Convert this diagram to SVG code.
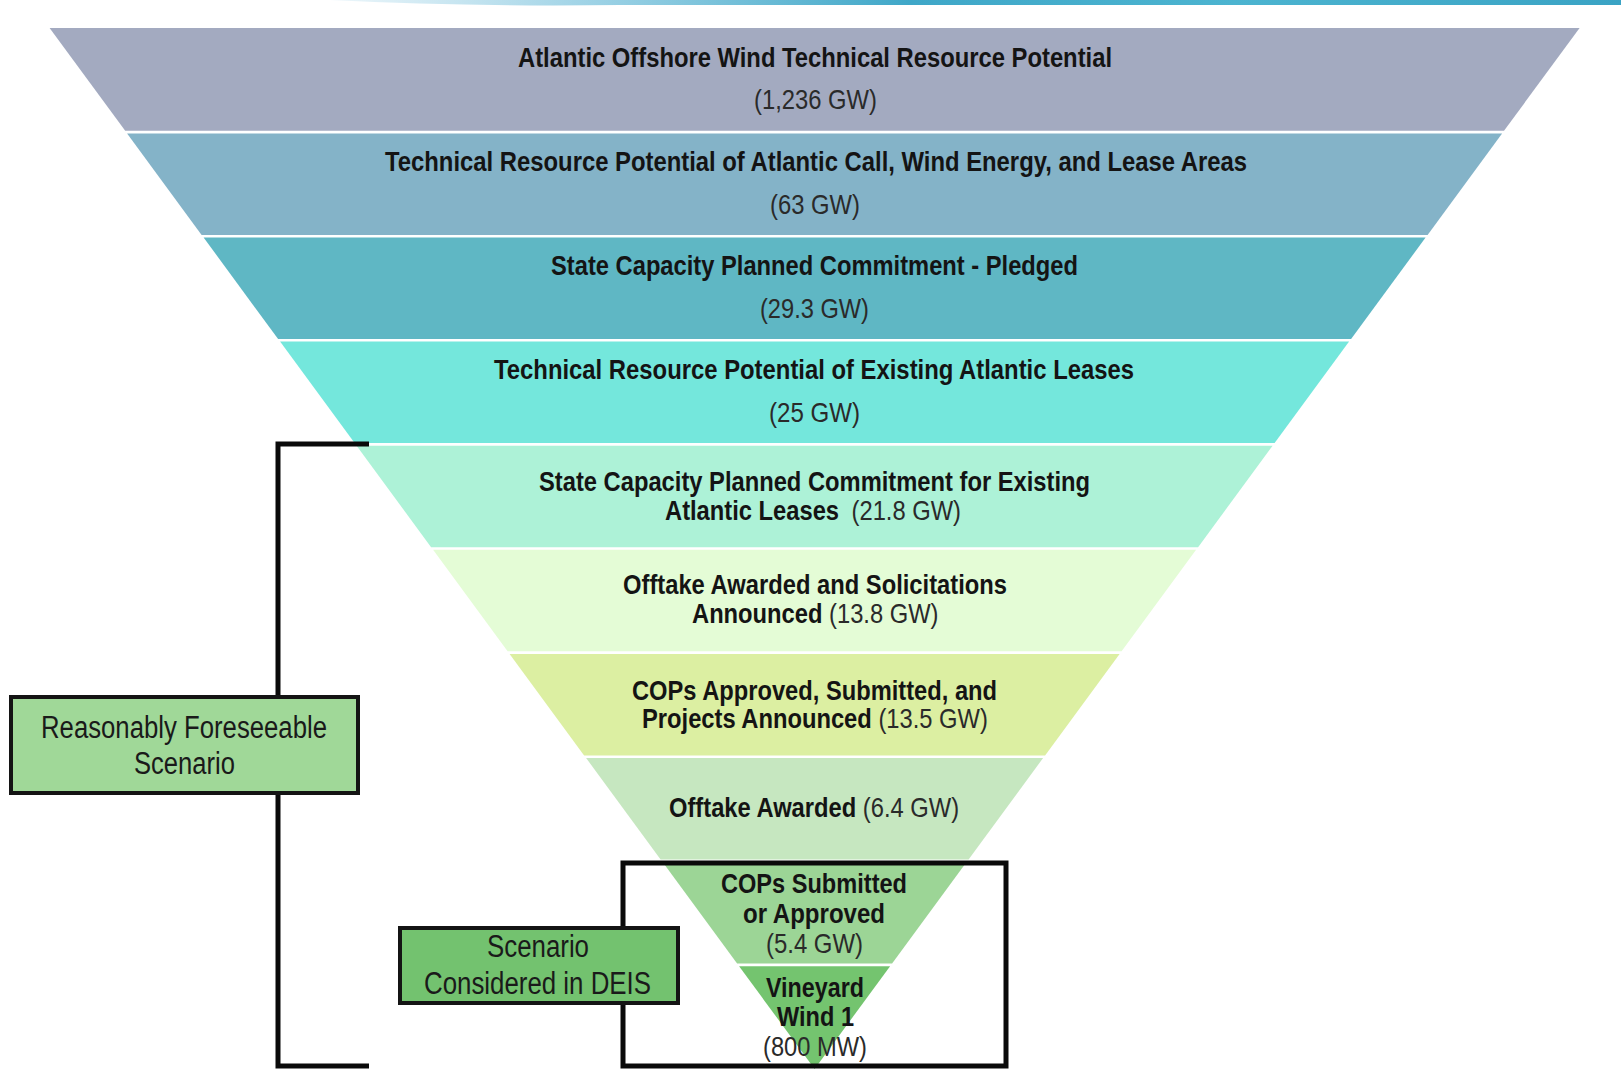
<svg xmlns="http://www.w3.org/2000/svg" width="1621" height="1069" viewBox="0 0 1621 1069">
<defs>
<linearGradient id="water" x1="330" y1="0" x2="1621" y2="0" gradientUnits="userSpaceOnUse">
<stop offset="0" stop-color="#eef7fb"/>
<stop offset="0.2" stop-color="#9fd3e6"/>
<stop offset="0.45" stop-color="#3fa7c8"/>
<stop offset="0.7" stop-color="#4cb4d0"/>
<stop offset="1" stop-color="#3aa3c4"/>
</linearGradient>
<style>
text{font-family:"Liberation Sans",Arial,sans-serif;font-size:28px}
.b{font-weight:bold;fill:#141414}
.r{font-weight:normal;fill:#2a2a2a}
.lb{font-size:31px;fill:#1a1a1a}
.line{fill:none;stroke:#0a0a0a;stroke-width:5}
.box{stroke:#141414;stroke-width:4}
</style>
</defs>
<rect width="1621" height="1069" fill="#ffffff"/>
<path d="M330,0 Q470,7 620,5 L1621,5 L1621,0 Z" fill="url(#water)"/>

<g id="band1">
<polygon points="49.6,28 1579.6,28 1504,130.8 125.2,130.8" fill="#a3aac0"/>
<text class="b" x="518" y="67" textLength="594" lengthAdjust="spacingAndGlyphs">Atlantic Offshore Wind Technical Resource Potential</text>
<text class="r" x="754" y="109" textLength="123" lengthAdjust="spacingAndGlyphs">(1,236 GW)</text>
</g>
<g id="band2">
<polygon points="127.1,133.4 1502.1,133.4 1427.6,234.9 201.6,234.9" fill="#84b3c8"/>
<text class="b" x="385" y="171" textLength="862" lengthAdjust="spacingAndGlyphs">Technical Resource Potential of Atlantic Call, Wind Energy, and Lease Areas</text>
<text class="r" x="770" y="214" textLength="90" lengthAdjust="spacingAndGlyphs">(63 GW)</text>
</g>
<g id="band3">
<polygon points="203.6,237.5 1425.6,237.5 1351.1,339 278.1,339" fill="#5fb7c4"/>
<text class="b" x="551" y="275" textLength="527" lengthAdjust="spacingAndGlyphs">State Capacity Planned Commitment - Pledged</text>
<text class="r" x="760" y="318" textLength="109" lengthAdjust="spacingAndGlyphs">(29.3 GW)</text>
</g>
<g id="band4">
<polygon points="280.1,341.6 1349.1,341.6 1274.6,443.1 354.6,443.1" fill="#74e7dc"/>
<text class="b" x="494" y="379" textLength="640" lengthAdjust="spacingAndGlyphs">Technical Resource Potential of Existing Atlantic Leases</text>
<text class="r" x="769" y="422" textLength="91" lengthAdjust="spacingAndGlyphs">(25 GW)</text>
</g>
<g id="band5">
<polygon points="356.6,445.7 1272.6,445.7 1198.1,547.2 431.1,547.2" fill="#adf2d7"/>
<text class="b" x="539" y="491" textLength="551" lengthAdjust="spacingAndGlyphs">State Capacity Planned Commitment for Existing</text>
<text transform="matrix(0.848 0 0 1 665 520)" x="0" y="0"><tspan class="b">Atlantic Leases</tspan><tspan class="r" dx="7"> (21.8 GW)</tspan></text>
</g>
<g id="band6">
<polygon points="433.1,549.8 1196.1,549.8 1121.6,651.3 507.6,651.3" fill="#e4fcd6"/>
<text class="b" x="623" y="594" textLength="384" lengthAdjust="spacingAndGlyphs">Offtake Awarded and Solicitations</text>
<text transform="matrix(0.848 0 0 1 692 623)" x="0" y="0"><tspan class="b">Announced</tspan><tspan class="r"> (13.8 GW)</tspan></text>
</g>
<g id="band7">
<polygon points="509.6,653.9 1119.6,653.9 1045.1,755.4 584.1,755.4" fill="#dcefa2"/>
<text class="b" x="632" y="700" textLength="365" lengthAdjust="spacingAndGlyphs">COPs Approved, Submitted, and</text>
<text transform="matrix(0.848 0 0 1 642 728)" x="0" y="0"><tspan class="b">Projects Announced</tspan><tspan class="r"> (13.5 GW)</tspan></text>
</g>
<g id="band8">
<polygon points="586.1,758 1043.1,758 968.6,859.5 660.6,859.5" fill="#c6e7c0"/>
<text transform="matrix(0.848 0 0 1 669 817)" x="0" y="0"><tspan class="b">Offtake Awarded</tspan><tspan class="r"> (6.4 GW)</tspan></text>
</g>
<g id="band9">
<polygon points="662.6,862.1 966.6,862.1 892.1,963.6 737.1,963.6" fill="#9cd596"/>
<text class="b" x="721" y="893" textLength="186" lengthAdjust="spacingAndGlyphs">COPs Submitted</text>
<text class="b" x="743" y="923" textLength="142" lengthAdjust="spacingAndGlyphs">or Approved</text>
<text class="r" x="766" y="953" textLength="97" lengthAdjust="spacingAndGlyphs">(5.4 GW)</text>
</g>
<g id="band10">
<polygon points="739.1,966.2 890.1,966.2 814.6,1069" fill="#74c46f"/>
<text class="b" x="766" y="997" textLength="98" lengthAdjust="spacingAndGlyphs">Vineyard</text>
<text class="b" x="777" y="1026" textLength="77" lengthAdjust="spacingAndGlyphs">Wind 1</text>
<text class="r" x="763" y="1056" textLength="104" lengthAdjust="spacingAndGlyphs">(800 MW)</text>
</g>

<g id="connectors">
<path class="line" d="M369,444 H278 V1066 H369"/>
<rect id="deis-scope" class="line" x="623" y="863" width="383" height="203"/>
</g>

<g id="reasonably-foreseeable">
<rect class="box" x="11" y="697" width="347" height="96" fill="#a0d898"/>
<text class="lb" x="41" y="738" textLength="286" lengthAdjust="spacingAndGlyphs">Reasonably Foreseeable</text>
<text class="lb" x="134" y="774" textLength="101" lengthAdjust="spacingAndGlyphs">Scenario</text>
</g>
<g id="scenario-deis">
<rect class="box" x="400" y="928" width="278" height="75" fill="#73c26f"/>
<text class="lb" x="487" y="957" textLength="102" lengthAdjust="spacingAndGlyphs">Scenario</text>
<text class="lb" x="424" y="994" textLength="227" lengthAdjust="spacingAndGlyphs">Considered in DEIS</text>
</g>
</svg>
